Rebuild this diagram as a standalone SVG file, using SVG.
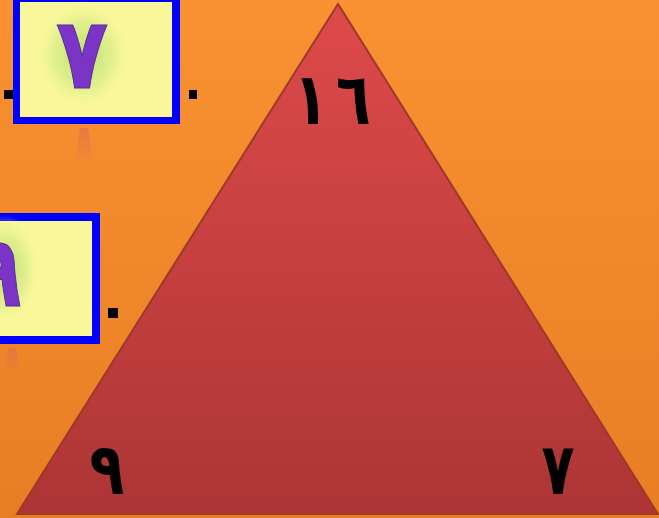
<svg xmlns="http://www.w3.org/2000/svg" width="659" height="518" viewBox="0 0 659 518">
<style>
.sq{fill:#000}
.box{fill:#0000FF}
.in{fill:#F9F79A}
.pd{font-family:"DejaVu Sans",sans-serif;font-weight:bold;fill:#7B35C6;stroke:#5a2a9a;stroke-width:1}
.bd{font-family:"DejaVu Sans",sans-serif;font-weight:bold;fill:#000}
</style>
<defs>
<linearGradient id="bg" x1="0" y1="0" x2="0" y2="1">
<stop offset="0" stop-color="#F99233"/>
<stop offset="1" stop-color="#E87E24"/>
</linearGradient>
<linearGradient id="tri" x1="0" y1="0" x2="0" y2="1">
<stop offset="0" stop-color="#DE4A4A"/>
<stop offset="1" stop-color="#AD3535"/>
</linearGradient>
<radialGradient id="glow" cx="0.5" cy="0.5" r="0.5">
<stop offset="0" stop-color="#B9E070"/>
<stop offset="0.6" stop-color="#D6EC88" stop-opacity="0.7"/>
<stop offset="1" stop-color="#F9F79A" stop-opacity="0"/>
</radialGradient>
<linearGradient id="refl" x1="0" y1="0" x2="0" y2="1">
<stop offset="0" stop-color="#E0704A" stop-opacity="0.7"/>
<stop offset="1" stop-color="#E0704A" stop-opacity="0"/>
</linearGradient>
</defs>
<rect width="659" height="518" fill="url(#bg)"/>
<g id="triangle">
<polygon points="338,4 17,514 658,514" fill="url(#tri)" stroke="#9C3A2A" stroke-width="2"/>
<text class="bd" transform="translate(334,124) scale(0.95,1.2)" font-size="60" text-anchor="middle"><tspan dx="-2">١</tspan><tspan dx="8">٦</tspan></text>
<text class="bd" transform="translate(107,494) scale(0.95,1.2)" font-size="60" text-anchor="middle">٩</text>
<text class="bd" transform="translate(558,494) scale(0.9,1.2)" font-size="60" text-anchor="middle">٧</text>
</g>
<g id="box1">
<polygon points="80,128 88,128 94,165 75,165" fill="url(#refl)"/>
<rect class="box" x="13" y="-4" width="167" height="128"/>
<rect class="in" x="20" y="2" width="152" height="115"/>
<ellipse cx="83" cy="55" rx="48" ry="55" fill="url(#glow)"/>
<text class="pd" transform="translate(82,88) scale(0.95,1.1)" font-size="90" text-anchor="middle">٧</text>
<rect class="sq" x="4" y="90" width="9" height="9"/>
<rect class="sq" x="189" y="90" width="8" height="9"/>
</g>
<g id="box2">
<polygon points="8,348 16,348 20,375 6,375" fill="url(#refl)"/>
<rect class="box" x="-10" y="213" width="110" height="131"/>
<rect class="in" x="-10" y="221" width="102" height="115"/>
<ellipse cx="5" cy="270" rx="35" ry="55" fill="url(#glow)"/>
<text class="pd" transform="translate(-2,306) scale(0.85,1.1)" font-size="90" text-anchor="middle">٩</text>
<rect class="sq" x="108" y="308" width="10" height="10"/>
</g>
</svg>
